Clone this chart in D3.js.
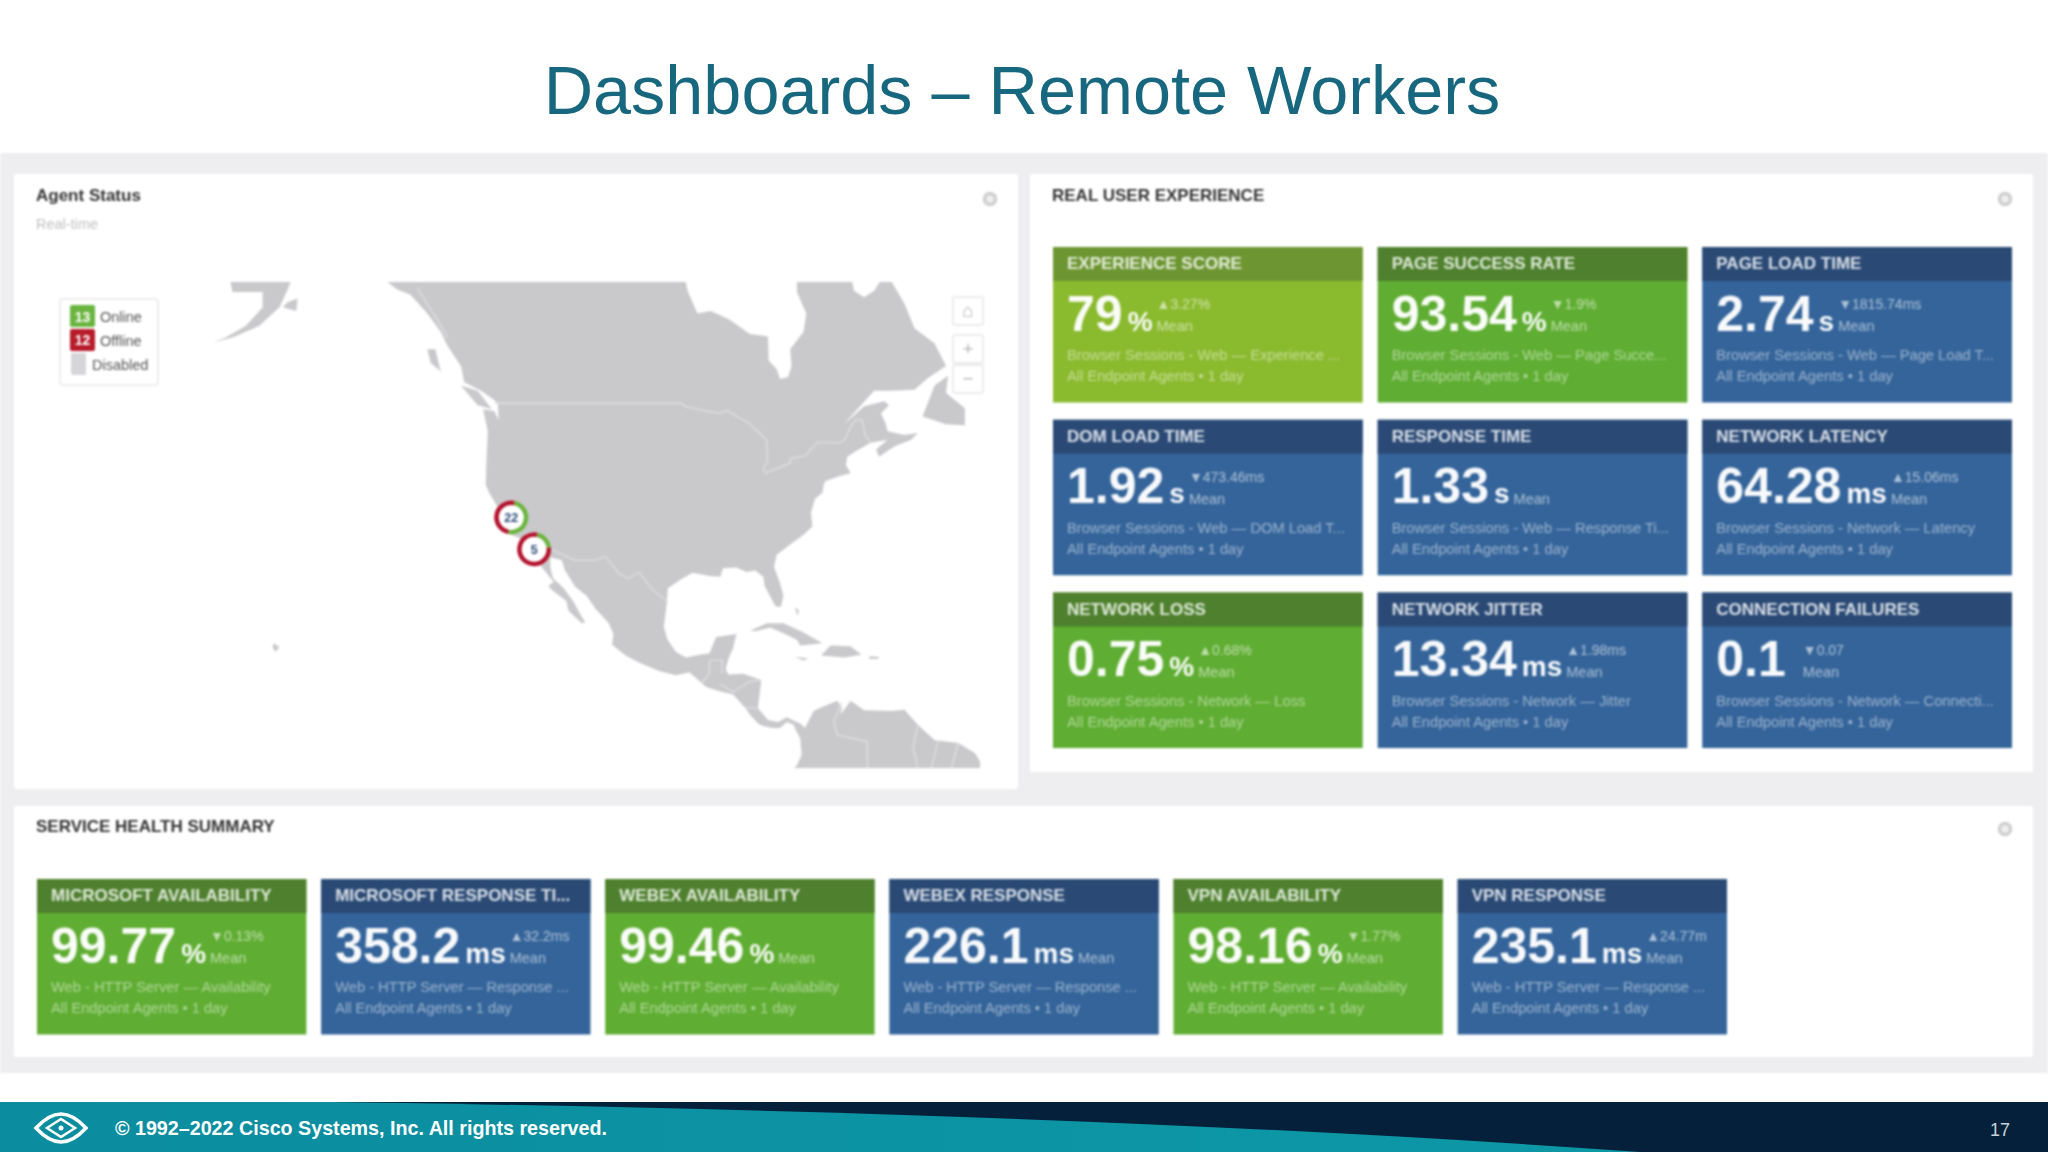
<!DOCTYPE html>
<html>
<head>
<meta charset="utf-8">
<title>Dashboards - Remote Workers</title>
<script src="https://cdn.jsdelivr.net/npm/d3@7"></script>
<style>
  html, body { margin: 0; padding: 0; background: #fff; }
  svg { display: block; font-family: "Liberation Sans", Arial, sans-serif; }
  .soft { filter: blur(0.9px); }
</style>
</head>
<body>
<svg id="slide" width="2048" height="1152"></svg>
<script>
// tiles in the real user experience panel, row by row
var rueTitles = ['EXPERIENCE SCORE', 'PAGE SUCCESS RATE', 'PAGE LOAD TIME', 'DOM LOAD TIME', 'RESPONSE TIME', 'NETWORK LATENCY', 'NETWORK LOSS', 'NETWORK JITTER', 'CONNECTION FAILURES'];
var rueValues = ['79', '93.54', '2.74', '1.92', '1.33', '64.28', '0.75', '13.34', '0.1'];
var rueUnits = ['%', '%', 's', 's', 's', 'ms', '%', 'ms', ''];
var rueDeltas = ['▲3.27%', '▼1.9%', '▼1815.74ms', '▼473.46ms', '', '▲15.06ms', '▲0.68%', '▲1.98ms', '▼0.07'];
var rueKinds = ['lime', 'green', 'blue', 'blue', 'blue', 'blue', 'green', 'blue', 'blue'];
var rueLines = ['Browser Sessions - Web — Experience ...', 'Browser Sessions - Web — Page Succe...', 'Browser Sessions - Web — Page Load T...', 'Browser Sessions - Web — DOM Load T...', 'Browser Sessions - Web — Response Ti...', 'Browser Sessions - Network — Latency', 'Browser Sessions - Network — Loss', 'Browser Sessions - Network — Jitter', 'Browser Sessions - Network — Connecti...'];

// tiles in the service health panel
var svcTitles = ['MICROSOFT AVAILABILITY', 'MICROSOFT RESPONSE TI...', 'WEBEX AVAILABILITY', 'WEBEX RESPONSE', 'VPN AVAILABILITY', 'VPN RESPONSE'];
var svcValues = ['99.77', '358.2', '99.46', '226.1', '98.16', '235.1'];
var svcUnits = ['%', 'ms', '%', 'ms', '%', 'ms'];
var svcDeltas = ['▼0.13%', '▲32.2ms', '', '', '▼1.77%', '▲24.77m'];
var svcKinds = ['green', 'blue', 'green', 'blue', 'green', 'blue'];
var svcLines = ['Web - HTTP Server — Availability', 'Web - HTTP Server — Response ...', 'Web - HTTP Server — Availability', 'Web - HTTP Server — Response ...', 'Web - HTTP Server — Availability', 'Web - HTTP Server — Response ...'];
var scopeLine = 'All Endpoint Agents • 1 day';

var legendLabels = ['Online', 'Offline', 'Disabled'];
var legendCounts = ['13', '12', ''];

// agent clusters on the map: [lon, lat], label, [online, offline]
var clusterSpots = [[-120.5, 36.6], [-117.1, 32.7]];
var clusterLabels = ['22', '5'];
var clusterSplits = [[11, 11], [1, 4]];

// land outlines as lon/lat
var mainland = [[-139.5, 60], [-94.8, 60], [-94.2, 58.7], [-92.8, 57], [-90.8, 57.2], [-88, 56.5], [-85, 55.3], [-82.3, 55.1], [-82.2, 53], [-81, 52.2], [-80.5, 51.3], [-79.3, 51.5], [-78.8, 52.5], [-79, 54], [-77, 55.5], [-76.6, 57], [-78, 58.7], [-78, 60], [-70, 60], [-69.5, 58.8], [-68, 58.3], [-66.5, 58.8], [-65, 60], [-64.5, 60], [-62, 57.8], [-60.5, 55.8], [-57.5, 54.5], [-55.8, 52.5], [-58.5, 51.4], [-60.5, 50.3], [-64, 50.2], [-66.5, 50.2], [-69, 48.4], [-71, 46.9], [-68, 48.7], [-65, 49.2], [-64.3, 48.8], [-65.5, 48], [-64.8, 47], [-64.5, 46.2], [-62, 45.8], [-60, 46], [-61, 45.3], [-63.5, 44.6], [-65.8, 43.5], [-66.2, 44.3], [-64.5, 45.3], [-67, 45], [-69, 44.2], [-70.5, 43.5], [-70.7, 42.6], [-70, 41.7], [-71.5, 41.4], [-73.8, 40.8], [-74, 40.4], [-74.2, 39.5], [-75.3, 38.8], [-75.9, 37.2], [-75.7, 35.5], [-77, 34.5], [-79, 33.3], [-81, 32], [-81.4, 30.5], [-80.5, 28.3], [-80, 26.7], [-80.4, 25.2], [-81.2, 25.3], [-81.9, 26.5], [-82.8, 28], [-83, 29.2], [-84.2, 30], [-85.5, 29.8], [-87, 30.4], [-89, 30.3], [-89.4, 29.2], [-91, 29.3], [-93.5, 29.7], [-95, 29], [-97.2, 27.7], [-97.4, 25.5], [-97.8, 22.5], [-97.3, 20.8], [-96, 19], [-94.5, 18.2], [-92.5, 18.6], [-91, 18.8], [-90.5, 20], [-90, 21.1], [-87, 21.5], [-87.5, 19.5], [-88.2, 18], [-88.6, 16.5], [-88.2, 15.8], [-86, 15.9], [-83.3, 15], [-83.6, 12.5], [-83.8, 10.9], [-82.3, 9.2], [-80.8, 8.9], [-79.5, 9.6], [-77.4, 8.6], [-76.8, 8], [-75.5, 10.5], [-74.5, 11], [-72, 12], [-71.3, 11], [-71.5, 10], [-70, 12], [-68, 10.6], [-64, 10.5], [-62, 10.7], [-60, 8.5], [-57.5, 6.2], [-54, 5.8], [-51.5, 4.3], [-50, 1.8], [-50, 0], [-78, 0], [-79, 1.5], [-78, 2.5], [-77.3, 4], [-77.5, 6.5], [-78.2, 7.8], [-78.5, 8.5], [-79.5, 8.9], [-80.5, 8], [-81.7, 8], [-83, 8.3], [-83.7, 8.6], [-85, 10], [-85.7, 11], [-87.5, 12.9], [-89.5, 13.4], [-91.5, 14], [-94, 16.1], [-96, 15.7], [-98.5, 16.3], [-101.5, 17.5], [-103.5, 18.5], [-105.5, 20], [-105.3, 21.5], [-106, 23], [-108, 25], [-109.3, 26.7], [-111, 27.9], [-112.5, 30], [-113, 31.3], [-114.7, 31.7], [-114.7, 30.5], [-114.3, 29], [-112.8, 27.8], [-111.3, 26], [-110.3, 24.3], [-109.5, 23.1], [-110, 23], [-112, 24.7], [-112.3, 26], [-114.5, 27.5], [-115, 28], [-114.2, 28.5], [-116, 30.5], [-117.1, 32.5], [-118.4, 33.8], [-120.5, 34.5], [-121.9, 36.6], [-122.5, 37.8], [-123.8, 39.5], [-124.3, 40.4], [-124.2, 43], [-124, 46.2], [-124.7, 48.4], [-123, 48.2], [-122.4, 47.3], [-122.5, 49], [-123, 49.3], [-125, 50.2], [-127.5, 51], [-128, 52.5], [-130, 54.3], [-131, 55.5], [-133, 57], [-135.5, 58.5], [-137.5, 58.9], [-139.5, 59.7]];
var alaskaPeninsula = [[-162.5, 60], [-162, 58.7], [-157.5, 58.7], [-157.5, 57.5], [-160, 56], [-163, 55], [-164.8, 54.6], [-162, 55], [-158, 56], [-155, 57.5], [-153.7, 59], [-153, 60]];
var kodiak = [[-154.5, 57.5], [-152.5, 57.2], [-152.3, 58.2], [-153.8, 57.9]];
var haidaGwaii = [[-131.8, 54], [-133, 54], [-132.5, 52.8], [-131, 52]];
var vancouverIsland = [[-123.4, 48.4], [-125.5, 48.8], [-128, 50.7], [-125.5, 50.2]];
var newfoundland = [[-59.3, 47.7], [-57.5, 50.7], [-55.5, 51.6], [-55.8, 50], [-53, 48.5], [-53, 46.8], [-55.8, 46.9]];
var cuba = [[-85, 21.9], [-82.5, 23], [-80, 23], [-77, 21.7], [-74.2, 20.2], [-77.5, 19.9], [-78, 20.7], [-80.5, 21.8], [-82, 22.4], [-84, 21.9]];
var hispaniola = [[-74.4, 18.5], [-73, 19.9], [-70, 19.8], [-68.4, 18.6], [-71, 18.2]];
var jamaica = [[-78.3, 18.3], [-76.3, 18.1], [-77, 17.8]];
var puertoRico = [[-67.2, 18.4], [-65.7, 18.3], [-66, 18], [-67.2, 18]];
var bigIsland = [[-155.9, 20.2], [-155, 19.7], [-155.6, 19], [-156, 19.6]];
var andros = [[-78.3, 25.1], [-77.7, 24.8], [-77.9, 24]];
var landShapes = [mainland, alaskaPeninsula, kodiak, haidaGwaii, vancouverIsland, newfoundland, cuba, hispaniola, jamaica, puertoRico, bigIsland, andros];

var canadaBorder = [[-123, 49], [-95.2, 49], [-94.6, 48.7], [-92, 48.3], [-89.5, 48], [-88.4, 48.3], [-84.9, 46.9], [-84.4, 46.5], [-83.6, 46], [-82.5, 45.3], [-82.4, 43], [-83, 42.2], [-82.7, 41.7], [-79, 42.8], [-79, 43.3], [-76.8, 43.6], [-75, 45], [-71.5, 45], [-70.8, 45.4], [-70, 46.7], [-69.2, 47.4], [-68.3, 47.3], [-67.8, 45.7], [-67, 45]];
var panhandleBorder = [[-134.5, 59], [-131.5, 56.5], [-130, 55]];
var mexicoBorder = [[-117.1, 32.5], [-114.7, 32.7], [-111, 31.3], [-108.2, 31.3], [-106.5, 31.8], [-104.5, 29.6], [-103, 29], [-101.5, 29.8], [-99.5, 27.5], [-97.2, 25.9]];
var guatemalaBorder = [[-92.2, 14.5], [-91, 16], [-91, 17.8], [-89.1, 17.8], [-89.2, 15.9]];
var hondurasBorder = [[-89.4, 14.4], [-87.5, 13.3], [-85, 14.8], [-83.3, 15]];
var nicaraguaBorder = [[-85.7, 11], [-83.7, 10.9]];
var colombiaBorder = [[-71.3, 11.8], [-72.5, 9], [-72, 7], [-67.5, 6], [-67.5, 2], [-70, 0]];
var guianaBorder = [[-60, 8.5], [-60.7, 5.2], [-60, 2], [-59, 1]];
var surinameBorder = [[-57, 6], [-58, 2], [-55, 2], [-54, 5.8]];
var borders = [canadaBorder, panhandleBorder, mexicoBorder, guatemalaBorder, hondurasBorder, nicaraguaBorder, colombiaBorder, guianaBorder, surinameBorder];

var fills = {
  lime: { body: '#8aba2e', head: '#6d9632' },
  green: { body: '#5fad32', head: '#4e802d' },
  blue: { body: '#34649a', head: '#2a4a75' }
};

var svg = d3.select('#slide');

svg.append('rect').attr('width', 2048).attr('height', 1152).attr('fill', '#fff');
svg.append('text').attr('x', 1022).attr('y', 114).attr('text-anchor', 'middle')
  .attr('font-size', 68.4).attr('fill', '#17677f').text('Dashboards – Remote Workers');

var dash = svg.append('g').attr('class', 'soft');
dash.append('rect').attr('y', 153).attr('width', 2048).attr('height', 920).attr('fill', '#eeeef0');

function panel(x, y, w, h) {
  dash.append('rect').attr('x', x).attr('y', y).attr('width', w).attr('height', h)
    .attr('fill', '#fff').attr('rx', 2);
}
panel(14, 174, 1004, 615);
panel(1030, 174, 1003, 598);
panel(14, 806, 2019, 251);

function heading(x, y, txt) {
  dash.append('text').attr('x', x).attr('y', y).attr('font-size', 17)
    .attr('font-weight', 'bold').attr('fill', '#333').text(txt);
}
heading(36, 201, 'Agent Status');
heading(1052, 201, 'REAL USER EXPERIENCE');
heading(36, 832, 'SERVICE HEALTH SUMMARY');
dash.append('text').attr('x', 36).attr('y', 229).attr('font-size', 14.5).attr('fill', '#c0c0c0').text('Real-time');

// settings cogs
[[990, 199], [2005, 199], [2005, 829]].forEach(function(c) {
  dash.append('circle').attr('cx', c[0]).attr('cy', c[1]).attr('r', 5.5)
    .attr('fill', '#eee').attr('stroke', '#cfcfcf').attr('stroke-width', 3.5);
});

// map
var projection = d3.geoMercator().scale(385).translate([1321, 782]);
var toPath = d3.line().x(function(d) { return projection(d)[0]; }).y(function(d) { return projection(d)[1]; });

svg.append('clipPath').attr('id', 'mapClip').append('rect')
  .attr('x', 200).attr('y', 282).attr('width', 780).attr('height', 486);

var map = dash.append('g').attr('clip-path', 'url(#mapClip)');
map.selectAll('.land').data(landShapes).enter().append('path')
  .attr('class', 'land')
  .attr('d', function(d) { return toPath(d) + 'Z'; })
  .attr('fill', '#c9c9cb');
map.selectAll('.border').data(borders).enter().append('path')
  .attr('class', 'border')
  .attr('d', toPath)
  .attr('fill', 'none').attr('stroke', '#e0e0e2').attr('stroke-width', 1.3);

// clusters
var arc = d3.arc().innerRadius(12.5).outerRadius(17);
var pie = d3.pie().sort(null).startAngle(0.2).endAngle(0.2 + 2 * Math.PI);
var clusters = dash.selectAll('.cluster').data(clusterSpots).enter().append('g')
  .attr('class', 'cluster')
  .attr('transform', function(d) { return 'translate(' + projection(d) + ')'; });
clusters.append('circle').attr('r', 17).attr('fill', '#fff');
clusters.each(function(d, i) {
  d3.select(this).selectAll('path').data(pie(clusterSplits[i])).enter().append('path')
    .attr('d', arc)
    .attr('fill', function(s, j) { return j == 0 ? '#6cb33f' : '#b3122b'; });
});
clusters.append('text').attr('text-anchor', 'middle').attr('y', 4.5).attr('font-size', 12.5)
  .attr('font-weight', 'bold').attr('fill', '#2a4a75')
  .text(function(d, i) { return clusterLabels[i]; });

// legend
dash.append('rect').attr('x', 60).attr('y', 299).attr('width', 98).attr('height', 86).attr('rx', 3)
  .attr('fill', '#fff').attr('stroke', '#eeeeee').attr('stroke-width', 2);
var legendY = d3.scaleBand().domain(legendLabels).range([305, 375]).paddingInner(0.08);
var swatchColors = ['#69b53f', '#b71c2b', '#d6d6d8'];
var legendRows = dash.selectAll('.legendRow').data(legendLabels).enter().append('g').attr('class', 'legendRow')
  .attr('transform', function(d) { return 'translate(0,' + legendY(d) + ')'; });
legendRows.append('rect').attr('x', function(d, i) { return i == 2 ? 71 : 70; })
  .attr('width', function(d, i) { return i == 2 ? 15 : 25; })
  .attr('height', legendY.bandwidth()).attr('rx', 2)
  .attr('fill', function(d, i) { return swatchColors[i]; });
legendRows.append('text').attr('x', 82.5).attr('y', 16.5).attr('text-anchor', 'middle')
  .attr('font-size', 14).attr('font-weight', 'bold').attr('fill', '#fff')
  .text(function(d, i) { return legendCounts[i]; });
legendRows.append('text').attr('x', function(d, i) { return i == 2 ? 92 : 100; }).attr('y', 17)
  .attr('font-size', 14.5).attr('fill', '#555').text(function(d) { return d; });

// zoom buttons
var zoomTop = [297, 335, 365];
var zoomGlyph = ['⌂', '+', '−'];
zoomTop.forEach(function(y, i) {
  dash.append('rect').attr('x', 953).attr('y', y).attr('width', 30).attr('height', 28).attr('rx', 2)
    .attr('fill', '#fff').attr('stroke', '#ececec').attr('stroke-width', 2);
  dash.append('text').attr('x', 968).attr('y', y + 20).attr('text-anchor', 'middle')
    .attr('font-size', 19).attr('fill', '#b5b5b5').text(zoomGlyph[i]);
});

function drawTiles(parent, titles, values, units, deltas, kinds, lines, xOf, yOf, w) {
  var tiles = parent.selectAll(null).data(titles).enter().append('g')
    .attr('transform', function(d, i) { return 'translate(' + xOf(i) + ',' + yOf(i) + ')'; });

  tiles.append('rect').attr('width', w).attr('height', 155.5)
    .attr('fill', function(d, i) { return fills[kinds[i]].body; });
  tiles.append('rect').attr('width', w).attr('height', 34)
    .attr('fill', function(d, i) { return fills[kinds[i]].head; });
  tiles.append('text').attr('x', 14).attr('y', 22).attr('font-size', 17).attr('font-weight', 'bold')
    .attr('fill', '#fff').attr('fill-opacity', 0.82).text(function(d) { return d; });

  tiles.each(function(d, i) {
    var g = d3.select(this);
    var val = g.append('text').attr('x', 14).attr('y', 83.5).attr('font-size', 50).attr('font-weight', 'bold')
      .attr('fill', '#fff').attr('fill-opacity', 0.96).text(values[i]);
    var x = 14 + val.node().getComputedTextLength() + 5;
    if (units[i]) {
      var unit = g.append('text').attr('x', x).attr('y', 83.5).attr('font-size', 28).attr('font-weight', 'bold')
        .attr('fill', '#fff').attr('fill-opacity', 0.96).text(units[i]);
      x += unit.node().getComputedTextLength() + 4;
    } else {
      x += 12;
    }
    g.append('text').attr('x', x).attr('y', 62).attr('font-size', 14)
      .attr('fill', '#fff').attr('fill-opacity', 0.6).text(deltas[i]);
    g.append('text').attr('x', x).attr('y', 84).attr('font-size', 14.5)
      .attr('fill', '#fff').attr('fill-opacity', 0.58).text('Mean');
    g.append('text').attr('x', 14).attr('y', 113).attr('font-size', 14.7)
      .attr('fill', '#fff').attr('fill-opacity', 0.5).text(lines[i]);
    g.append('text').attr('x', 14).attr('y', 134).attr('font-size', 14.7)
      .attr('fill', '#fff').attr('fill-opacity', 0.5).text(scopeLine);
  });
}

var rueX = d3.scaleBand().domain([0, 1, 2]).range([1053, 2012]).paddingInner(0.046);
var rueY = d3.scaleBand().domain([0, 1, 2]).range([247, 748]).paddingInner(0.1);
drawTiles(dash, rueTitles, rueValues, rueUnits, rueDeltas, rueKinds, rueLines,
  function(i) { return rueX(i % 3); }, function(i) { return rueY(Math.floor(i / 3)); }, rueX.bandwidth());

var svcX = d3.scaleBand().domain(d3.range(6)).range([37, 1727]).paddingInner(0.052);
drawTiles(dash, svcTitles, svcValues, svcUnits, svcDeltas, svcKinds, svcLines,
  svcX, function() { return 879; }, svcX.bandwidth());

// footer band
var defs = svg.append('defs');
var teal = defs.append('linearGradient').attr('id', 'tealFade');
teal.append('stop').attr('offset', '0%').attr('stop-color', '#0b8d9f');
teal.append('stop').attr('offset', '100%').attr('stop-color', '#0d98a6');

svg.append('rect').attr('y', 1102).attr('width', 2048).attr('height', 50).attr('fill', '#04203a');
svg.append('path').attr('d', 'M0,1102 L330,1102 Q1080,1112 1640,1152 L0,1152 Z').attr('fill', 'url(#tealFade)');

// eye logo
var logo = svg.append('g').attr('transform', 'translate(61,1128)').attr('fill', 'none').attr('stroke', '#fff');
logo.append('path').attr('d', 'M-25,0 Q-12,-14 0,-14 Q12,-14 25,0 Q12,14 0,14 Q-12,14 -25,0 Z').attr('stroke-width', 3.5);
logo.append('path').attr('d', 'M-14,0 L0,-9 L14,0 L0,9 Z').attr('stroke-width', 2.5);
logo.append('circle').attr('r', 2.5).attr('fill', '#fff').attr('stroke', 'none');

svg.append('text').attr('x', 115).attr('y', 1135).attr('font-size', 19.7).attr('font-weight', 'bold')
  .attr('fill', '#fff').text('© 1992–2022 Cisco Systems, Inc. All rights reserved.');
svg.append('text').attr('x', 1990).attr('y', 1136).attr('font-size', 18).attr('fill', '#c8d0d8').text('17');
</script>
</body>
</html>
